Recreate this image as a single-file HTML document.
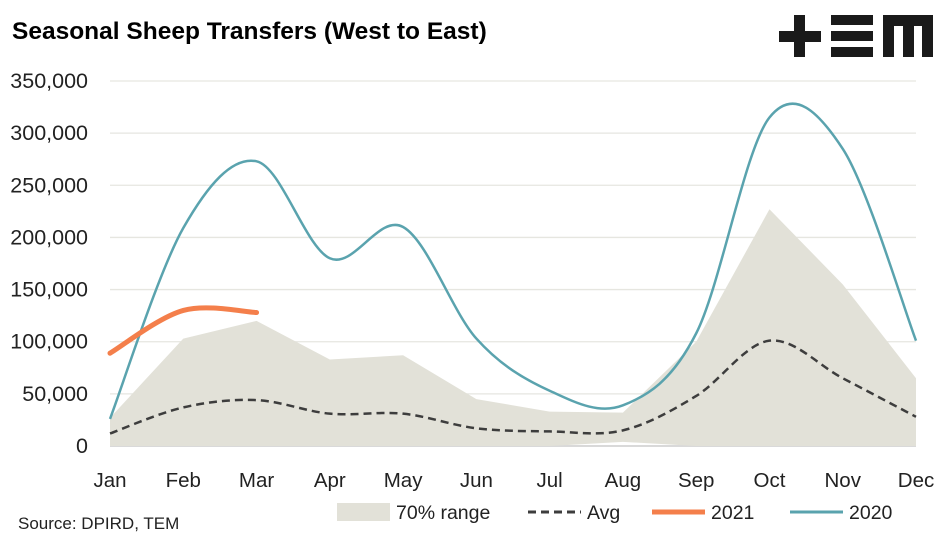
<!DOCTYPE html>
<html><head><meta charset="utf-8"><style>
body{margin:0;background:#fff;font-family:"Liberation Sans",sans-serif}
svg text{font-family:"Liberation Sans",sans-serif}
</style></head><body>
<svg id="c" width="947" height="541" viewBox="0 0 947 541" xmlns="http://www.w3.org/2000/svg">
<text x="12" y="39" font-size="24.5" font-weight="bold" fill="#000">Seasonal Sheep Transfers (West to East)</text>
<g fill="#1a1a1a">
<rect x="779" y="31" width="42" height="11"/><rect x="794" y="15" width="11" height="42"/>
<rect x="831" y="15" width="42" height="10"/><rect x="831" y="31" width="42" height="10"/><rect x="831" y="47" width="42" height="10"/>
<path d="M883 15h50v42h-11v-31h-8v31h-11v-31h-9v31h-11z"/>
</g>
<g id="grid"></g><g id="plot"></g><g id="axes"></g>
<g>
<rect x="337" y="503" width="53" height="18" fill="#e2e1d8"/>
<text x="396" y="519" font-size="19.5" fill="#222">70% range</text>
<line x1="528" y1="512" x2="581" y2="512" stroke="#3d3d3d" stroke-width="3" stroke-dasharray="8,5"/>
<text x="587" y="519" font-size="19.5" fill="#222">Avg</text>
<line x1="652" y1="512" x2="705" y2="512" stroke="#f47f4b" stroke-width="5"/>
<text x="711" y="519" font-size="19.5" fill="#222">2021</text>
<line x1="790" y1="512" x2="843" y2="512" stroke="#5aa3ae" stroke-width="3"/>
<text x="849" y="519" font-size="19.5" fill="#222">2020</text>
</g>
<text x="18" y="529" font-size="17" fill="#222">Source: DPIRD, TEM</text>
</svg>
<script>
const months=["Jan","Feb","Mar","Apr","May","Jun","Jul","Aug","Sep","Oct","Nov","Dec"];
const yTicks=[0,50000,100000,150000,200000,250000,300000,350000];
const rangeUpper=[27000,103000,120000,83000,87000,45000,33000,32000,100000,227000,155000,65000];
const rangeLower=[0,0,0,0,0,0,0,4000,0,0,0,0];
const avg=[12000,37000,44000,31000,31000,17000,14000,15000,48000,101000,65000,28000];
const s2021=[89000,130000,128000];
const s2020=[26000,209000,273000,180000,210000,103000,53000,39000,108000,315000,285000,101000];
const NS="http://www.w3.org/2000/svg";
const x=i=>110+i*(916-110)/11;
const y=v=>446-v/350000*365;
function mk(t,a,p){const e=document.createElementNS(NS,t);for(const k in a)e.setAttribute(k,a[k]);p.appendChild(e);return e;}
const grid=document.getElementById('grid'),plot=document.getElementById('plot'),axes=document.getElementById('axes');
yTicks.forEach(v=>{
 const l=mk('line',{x1:110,x2:916,y1:y(v),y2:y(v),stroke:v===0?'#d9d9d9':'#e6e6e0','stroke-width':v===0?2:1.3},grid);
 
 
 const t=mk('text',{x:88,y:y(v)+7,'font-size':21.5,'text-anchor':'end',fill:'#222'},axes);
 t.textContent=v.toLocaleString('en-US');
 
 
});
months.forEach((m,i)=>{
 const t=mk('text',{x:x(i),y:487,'font-size':20.5,'text-anchor':'middle',fill:'#222'},axes);
 t.textContent=m;
 
 
});
let d='M'+x(0)+','+y(rangeUpper[0]);
rangeUpper.forEach((v,i)=>{if(i)d+=' L'+x(i)+','+y(v);});
for(let i=rangeLower.length-1;i>=0;i--)d+=' L'+x(i)+','+y(rangeLower[i]);
const area=mk('path',{d:d+'Z',fill:'#e2e1d8'},plot);


function smooth(vals){
 const p=vals.map((v,i)=>[x(i),y(v)]);let s='M'+p[0];
 for(let i=0;i<p.length-1;i++){
  const p0=p[Math.max(0,i-1)],p1=p[i],p2=p[i+1],p3=p[Math.min(p.length-1,i+2)];
  const c1=[p1[0]+(p2[0]-p0[0])/6,p1[1]+(p2[1]-p0[1])/6],c2=[p2[0]-(p3[0]-p1[0])/6,p2[1]-(p3[1]-p1[1])/6];
  s+=' C'+c1+' '+c2+' '+p2;
 }return s;}
const la=mk('path',{d:smooth(avg),fill:'none',stroke:'#3d3d3d','stroke-width':2.5,'stroke-dasharray':'8,5'},plot);


const l20=mk('path',{d:smooth(s2020),fill:'none',stroke:'#5aa3ae','stroke-width':2.5},plot);


const l21=mk('path',{d:smooth(s2021),fill:'none',stroke:'#f47f4b','stroke-width':5,'stroke-linecap':'round'},plot);


</script>
</body></html>
